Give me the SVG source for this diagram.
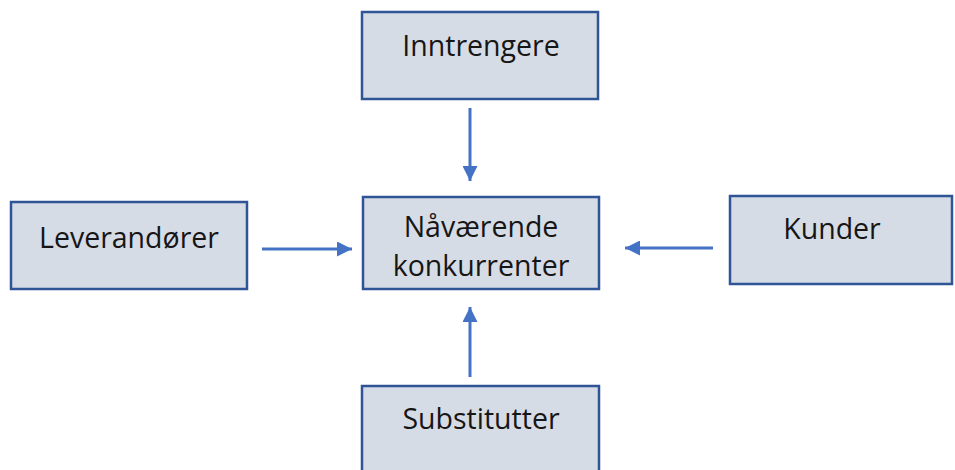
<svg xmlns="http://www.w3.org/2000/svg" width="955" height="470" viewBox="0 0 955 470">
<style>
.box{fill:#D6DCE5;stroke:#2F5597;stroke-width:2.5}
.lbl{font-family:"Open Sans","Liberation Sans",sans-serif;font-size:28.5px;fill:#161616;text-anchor:middle}
.con{stroke:#4472C4;stroke-width:3;fill:none}
</style>
<defs>
<marker id="ah" viewBox="0 0 10 10" refX="10" refY="5" markerWidth="5" markerHeight="5" markerUnits="strokeWidth" orient="auto">
<path d="M0,0 L10,5 L0,10 z" fill="#4472C4"/>
</marker>
</defs>
<rect width="955" height="470" fill="#fff"/>
<g id="inntrengere"><rect class="box" x="362" y="12" width="236" height="87"/><text class="lbl" x="481" y="56">Inntrengere</text></g>
<g id="naavaerende"><rect class="box" x="363" y="197" width="236" height="92"/><text class="lbl" x="481" y="237">Nåværende</text><text class="lbl" x="481" y="276">konkurrenter</text></g>
<g id="leverandorer"><rect class="box" x="11" y="202" width="236" height="87"/><text class="lbl" x="129" y="248">Leverandører</text></g>
<g id="kunder"><rect class="box" x="730" y="196" width="222" height="88"/><text class="lbl" x="832" y="239">Kunder</text></g>
<g id="substitutter"><rect class="box" x="362" y="386" width="237" height="90"/><text class="lbl" x="481" y="429">Substitutter</text></g>
<g id="connectors">
<line class="con" x1="470" y1="108" x2="470" y2="181" marker-end="url(#ah)"/>
<line class="con" x1="262" y1="249" x2="352" y2="249" marker-end="url(#ah)"/>
<line class="con" x1="713" y1="248" x2="625" y2="248" marker-end="url(#ah)"/>
<line class="con" x1="470" y1="377" x2="470" y2="307" marker-end="url(#ah)"/>
</g>
</svg>
